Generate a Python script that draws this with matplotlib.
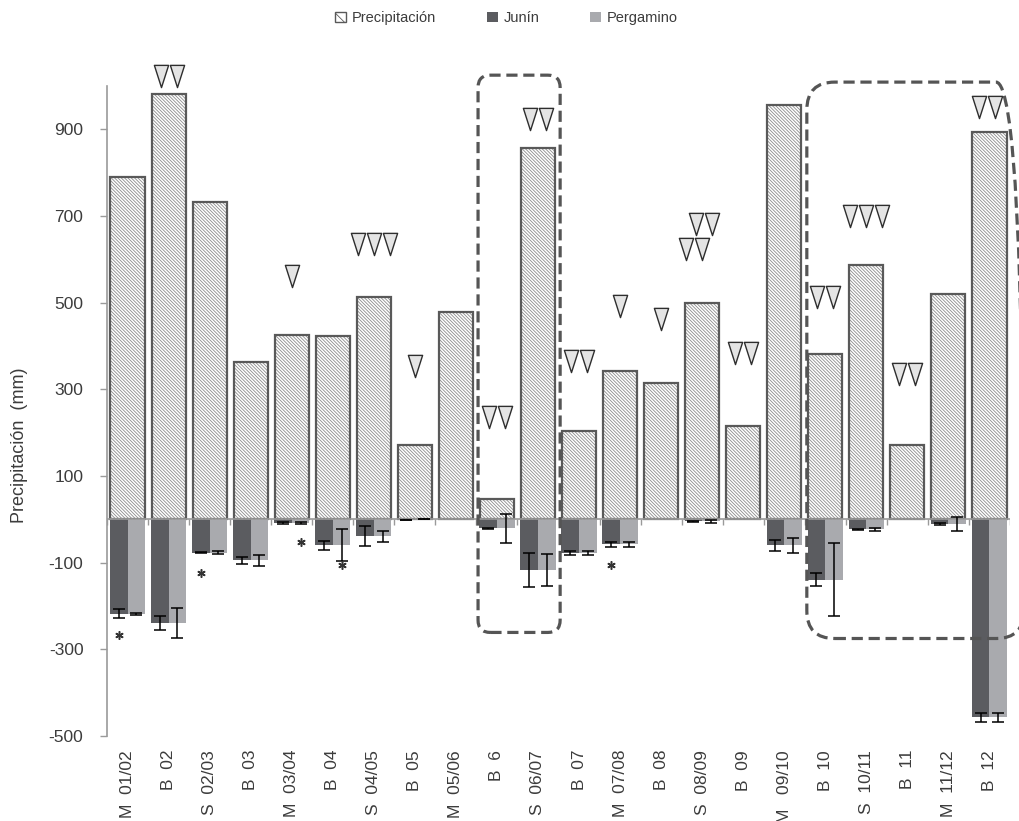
import numpy as np
import matplotlib
matplotlib.use("Agg")
import matplotlib.pyplot as plt
from matplotlib.patches import Patch, FancyBboxPatch
from matplotlib.path import Path

plt.rcParams['font.family'] = ['Liberation Sans', 'DejaVu Sans']
plt.rcParams['hatch.linewidth'] = 0.6
plt.rcParams['axes.unicode_minus'] = False

nan = np.nan

# campaign labels (M / B / S periods)
labels = ["M  01/02", "B  02", "S  02/03", "B  03", "M  03/04", "B  04",
          "S  04/05", "B  05", "M  05/06", "B  6", "S  06/07", "B  07",
          "M  07/08", "B  08", "S  08/09", "B  09", "M   09/10", "B  10",
          "S  10/11", "B  11", "M  11/12", "B  12"]

precip = [789, 981, 733, 363, 425, 423, 513, 171, 478, 46, 858, 203,
          342, 314, 499, 215, 956, 381, 587, 171, 519, 894]

junin = [-218, -239, -77, -95, -9, -60, -39, -1, nan, -21, -117, -78,
         -58, nan, -5, nan, -60, -139, -23, nan, -11, -457]
junin_err = [10, 17, 1.5, 7, 2, 10, 23, 0, nan, 2, 40, 4,
             5, nan, 2, nan, 13, 14, 1.5, nan, 1.5, 11]

pergamino = [-218, -239, -77, -95, -9, -60, -39, 0, nan, -21, -117, -78,
             -58, nan, -5, nan, -60, -139, -23, nan, -11, -457]
pergamino_err = [2, 34, 3, 12, 2, 37, 13, 0, nan, 34, 37, 5,
                 5, nan, 3, nan, 18, 85, 4, nan, 17, 11]

# triangle groups: category, how many, height (mm), small shift
tri_cat = [1, 4, 6, 7, 9, 10, 11, 12, 13, 14, 14, 15, 17, 18, 19, 21]
tri_n = [2, 1, 3, 1, 2, 2, 2, 1, 1, 2, 2, 2, 2, 3, 2, 2]
tri_y = [1023, 561, 635, 354, 236, 924, 366, 492, 462, 682, 624, 384, 513, 699, 335, 951]
tri_shift = [0, 0, 0, 0, 0, 0, 0, 0, 0, 0.05, -0.2, 0, 0, 0, 0, -0.05]

# asterisks: category, station (0 Junin, 1 Pergamino), height
star_cat = [0, 2, 4, 5, 12]
star_st = [0, 0, 1, 1, 0]
star_y = [-266, -125, -52, -106, -106]

JUNIN_C = '#5b5c60'
PERG_C = '#a9aaae'
EDGE_C = '#595959'
TXT_C = '#3c3c3c'
HATCH = '\\' * 10

x = np.arange(len(labels))

fig = plt.figure(figsize=(10.19, 8.21), dpi=100)
ax = fig.add_axes([107 / 1019, 85 / 821, 903 / 1019, 650 / 821])

# hatch layer in lighter grey, then the dark outline on top
ax.bar(x, precip, width=0.83, color='white', edgecolor='#8c8c8c',
       linewidth=0, hatch=HATCH, zorder=2)
ax.bar(x, precip, width=0.83, fill=False, edgecolor=EDGE_C,
       linewidth=1.6, zorder=2)

sub_w = 0.43
ax.bar(x - sub_w / 2, junin, width=sub_w, color=JUNIN_C, linewidth=0, zorder=2)
ax.bar(x + sub_w / 2, pergamino, width=sub_w, color=PERG_C, linewidth=0, zorder=2)
ax.errorbar(x - sub_w / 2, junin, yerr=junin_err, fmt='none', ecolor='black',
            elinewidth=1.1, capsize=4.3, capthick=1.1, zorder=4)
ax.errorbar(x + sub_w / 2, pergamino, yerr=pergamino_err, fmt='none', ecolor='black',
            elinewidth=1.1, capsize=4.3, capthick=1.1, zorder=4)

# zero line with ticks at category boundaries
ax.axhline(0, color='#9a9a9a', linewidth=1.2, zorder=3)
ax.vlines(np.arange(len(labels) + 1) - 0.5, -14, 0, color='#9a9a9a', linewidth=1.0, zorder=3)

# significance triangles
tri = Path([(-0.32, 0.5), (0.32, 0.5), (0, -0.5), (-0.32, 0.5)],
           [Path.MOVETO, Path.LINETO, Path.LINETO, Path.CLOSEPOLY])
step = 0.39
for c, n, yv, s in zip(tri_cat, tri_n, tri_y, tri_shift):
    xs = c + s + (np.arange(n) - (n - 1) / 2) * step
    ax.plot(xs, [yv] * n, linestyle='none', marker=tri, markersize=16,
            markerfacecolor='#e4e4e4', markeredgecolor='#2e2e2e',
            markeredgewidth=1.0, clip_on=False, zorder=5)

for c, st, yv in zip(star_cat, star_st, star_y):
    xs = c - sub_w / 2 if st == 0 else c + sub_w / 2
    ax.plot(xs, yv, linestyle='none', marker=(6, 2, 0), markersize=6,
            color='#333333', markeredgewidth=1.1, zorder=5)

# dashed highlight boxes
aspect = (903 / 22) / (650 / 1500)
for x0, x1, y0, y1, r in [(8.54, 10.54, -261, 1025, 0.3), (16.55, 21.84, -275, 1009, 0.68)]:
    box = FancyBboxPatch((x0, y0), x1 - x0, y1 - y0,
                         boxstyle=f"round,pad=0,rounding_size={r}",
                         mutation_aspect=aspect, fill=False, edgecolor='#555555',
                         linewidth=2.3, linestyle=(0, (3.5, 1.8)), clip_on=False, zorder=6)
    ax.add_patch(box)

ax.set_xlim(-0.5, len(labels) - 0.5)
ax.set_ylim(-500, 1000)
ax.set_yticks(np.arange(-500, 1000, 200))
ax.set_xticks(x, labels, rotation=90)
ax.tick_params(axis='x', length=0, pad=10, labelsize=12.5, labelcolor=TXT_C)
ax.tick_params(axis='y', length=5, width=1, color='#9a9a9a', labelsize=12.5,
               labelcolor=TXT_C, pad=12)
for side in ['top', 'right', 'bottom']:
    ax.spines[side].set_visible(False)
ax.spines['left'].set_color('#9a9a9a')
ax.spines['left'].set_linewidth(1.2)
ax.set_ylabel("Precipitación  (mm)", fontsize=13, color=TXT_C)
ax.yaxis.set_label_coords(-0.087, 0.448)

handles = [Patch(facecolor='white', edgecolor=EDGE_C, hatch='\\\\\\', linewidth=1),
           Patch(facecolor=JUNIN_C), Patch(facecolor=PERG_C)]
fig.legend(handles, ["Precipitación", "Junín", "Pergamino"], loc='center',
           bbox_to_anchor=(0.497, 1 - 18 / 821), ncol=3, frameon=False,
           fontsize=10.5, handlelength=0.75, handleheight=0.75,
           handletextpad=0.4, columnspacing=3.5, labelcolor=TXT_C)

fig.savefig("out.png", dpi=100)
